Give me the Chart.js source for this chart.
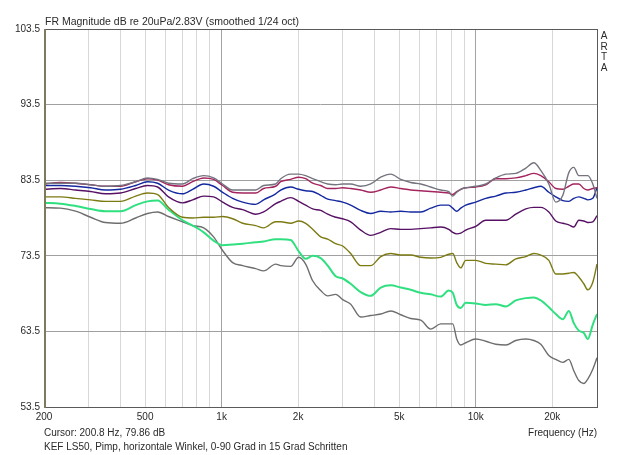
<!DOCTYPE html>
<html>
<head>
<meta charset="utf-8">
<script src="https://cdn.jsdelivr.net/npm/chart.js@4"></script>
<style>
    html, body { margin: 0; padding: 0; background: #ffffff; }
</style>
</head>
<body>
<canvas id="frChart" width="640" height="455"></canvas>
<script>
// frequencies (Hz) the curves were read at
const freqs = [200, 232, 266, 305, 349, 400, 459, 511, 560, 618, 702, 769, 850, 930, 1009, 1105, 1210, 1361, 1463, 1632,
    1708, 1869, 2010, 2141, 2282, 2454, 2615, 2811, 2995, 3220, 3526, 3860, 4227, 4628, 5067, 5548, 6074, 6650, 7282, 7829,
    8118, 8418, 8729, 9134, 10000, 10950, 11990, 13130, 14370, 15740, 16920, 18030, 19390, 20650, 22010, 23240, 24310, 25440, 26620, 27600,
    28880, 30000];

// magnitude in dB, one array per angle
const deg0 = [83.1, 83.1, 83.1, 82.9, 82.7, 82.8, 83.3, 83.8, 83.6, 83.1, 83.0, 83.7, 84.1, 83.8, 83.0, 82.2, 82.2, 82.2, 82.8, 83.0,
    83.7, 84.3, 84.3, 84.1, 83.7, 83.3, 83.0, 82.9, 83.0, 83.0, 82.7, 83.0, 83.9, 84.3, 83.6, 83.2, 83.0, 82.6, 82.2, 82.0,
    81.4, 81.9, 82.3, 82.5, 82.7, 83.0, 83.8, 84.3, 84.4, 85.1, 85.8, 84.8, 83.0, 80.6, 81.5, 84.5, 85.2, 84.1, 84.1, 84.1,
    83.0, 81.1];
const deg15 = [83.0, 83.2, 83.1, 82.9, 82.7, 82.7, 83.3, 83.7, 83.5, 82.9, 82.7, 83.3, 83.8, 83.6, 82.8, 81.9, 81.8, 81.8, 82.4, 82.7,
    83.3, 83.6, 83.9, 83.7, 83.1, 82.8, 82.4, 82.4, 82.5, 82.4, 82.2, 81.9, 82.2, 82.6, 82.4, 82.2, 82.1, 82.0, 81.9, 81.8,
    81.6, 82.0, 82.3, 82.5, 82.6, 82.9, 83.7, 83.7, 83.8, 84.1, 84.4, 84.1, 83.3, 82.4, 82.3, 82.7, 83.0, 83.0, 82.4, 82.2,
    82.4, 82.5];
const deg30 = [82.8, 82.8, 82.7, 82.5, 82.2, 82.3, 82.8, 83.3, 83.1, 82.2, 81.7, 82.3, 83.0, 82.7, 81.9, 81.1, 80.6, 80.3, 80.9, 81.7,
    82.2, 82.6, 82.3, 82.1, 82.0, 81.5, 81.0, 80.8, 80.6, 80.2, 79.5, 79.1, 79.4, 79.3, 79.4, 79.3, 79.3, 79.8, 80.2, 80.2,
    79.8, 79.4, 79.8, 80.2, 80.6, 81.1, 81.4, 81.8, 81.9, 82.2, 82.5, 82.7, 81.9, 81.3, 80.8, 80.7, 81.1, 81.3, 81.1, 80.9,
    81.1, 82.5];
const deg45 = [82.3, 82.4, 82.2, 82.0, 81.7, 81.8, 82.4, 82.8, 82.6, 81.3, 80.5, 80.9, 81.4, 81.3, 80.6, 79.9, 79.6, 79.0, 79.3, 80.4,
    80.7, 81.2, 80.7, 80.2, 79.7, 79.5, 79.0, 78.6, 78.4, 78.0, 76.9, 76.2, 76.6, 77.1, 77.0, 77.0, 77.1, 77.2, 77.3, 77.0,
    76.6, 76.4, 76.5, 76.9, 77.4, 78.2, 78.2, 78.2, 79.0, 79.7, 79.9, 79.9, 79.3, 78.1, 77.8, 77.6, 77.3, 78.2, 78.1, 77.9,
    78.0, 78.8];
const deg60 = [81.3, 81.3, 81.1, 80.9, 80.7, 80.7, 81.4, 81.8, 81.6, 79.9, 78.6, 78.5, 78.6, 78.6, 78.7, 78.4, 77.8, 77.5, 77.2, 78.0,
    78.0, 77.8, 78.1, 77.8, 77.0, 76.0, 75.7, 75.1, 74.8, 73.8, 72.2, 72.2, 73.4, 73.8, 73.6, 73.6, 73.3, 73.2, 73.3, 73.7,
    73.8, 72.6, 71.9, 72.9, 72.9, 72.5, 72.4, 72.3, 73.1, 73.4, 73.8, 73.6, 72.9, 71.1, 71.1, 71.2, 71.3, 70.7, 69.8, 69.0,
    70.0, 72.4];
const deg75 = [80.5, 80.4, 80.1, 79.7, 79.4, 79.4, 80.2, 80.7, 80.8, 79.6, 78.2, 77.5, 76.6, 75.5, 74.9, 75.0, 75.1, 75.3, 75.4, 75.7,
    75.7, 75.6, 74.1, 73.1, 73.5, 73.2, 72.2, 70.8, 70.5, 69.8, 68.7, 68.2, 69.3, 69.6, 69.3, 69.0, 68.6, 68.4, 68.1, 68.9,
    68.6, 67.0, 66.6, 67.3, 67.2, 67.0, 67.1, 66.8, 67.6, 67.9, 68.0, 67.6, 66.7, 65.8, 65.1, 66.2, 64.6, 63.6, 63.3, 62.5,
    64.4, 65.8];
const deg90 = [79.86, 79.8, 79.4, 78.6, 77.9, 77.8, 78.5, 79.1, 79.3, 78.7, 78.0, 77.5, 77.2, 76.0, 74.2, 72.6, 72.2, 71.8, 71.5, 72.4,
    72.2, 72.1, 73.3, 72.4, 70.2, 68.9, 68.2, 68.4, 67.7, 67.1, 65.4, 65.6, 65.8, 66.2, 65.7, 65.2, 65.0, 63.8, 64.5, 64.5,
    64.5, 62.5, 61.7, 62.0, 62.5, 62.2, 61.8, 61.7, 62.3, 62.5, 62.3, 61.8, 60.3, 59.8, 59.4, 59.8, 58.3, 57.0, 56.6, 57.2,
    58.5, 60.0];

const seriesLabels = ['0 Grad', '15 Grad', '30 Grad', '45 Grad', '60 Grad', '75 Grad', '90 Grad'];
const seriesValues = [deg0, deg15, deg30, deg45, deg60, deg75, deg90];
const seriesColors = ['#74747f', '#a3245f', '#1428a0', '#561064', '#7c7a12', '#30e080', '#6e6e6e'];

// axis ticks
const yTicks = [53.5, 63.5, 73.5, 83.5, 93.5, 103.5];
const xGrid = [200, 300, 400, 500, 600, 700, 800, 900, 1000, 2000, 3000, 4000, 5000, 6000, 7000, 8000, 9000, 10000, 20000, 30000];
const xLabels = { 200: '200', 500: '500', 1000: '1k', 2000: '2k', 5000: '5k', 10000: '10k', 20000: '20k' };

const FONT = "'Liberation Sans', Arial, sans-serif";
const TEXT = '#2a2a2a';

const datasets = seriesValues.map((vals, i) => ({
    label: seriesLabels[i],
    data: freqs.map((f, j) => ({ x: f, y: vals[j] })),
    borderColor: seriesColors[i],
    borderWidth: i === 5 ? 2 : 1.4,
    pointRadius: 0,
    cubicInterpolationMode: 'monotone',
    fill: false
}));

const artaDecor = {
    id: 'artaDecor',
    afterDatasetsDraw(chart) {
        const { ctx, chartArea: a } = chart;
        ctx.save();
        ctx.strokeStyle = '#5a5a5a';
        ctx.lineWidth = 1;
        ctx.strokeRect(a.left + 0.5, a.top + 0.5, a.right - a.left, a.bottom - a.top);
        ctx.strokeStyle = '#7d7b5c';
        ctx.lineWidth = 2;
        ctx.beginPath();
        ctx.moveTo(a.left + 1, a.top);
        ctx.lineTo(a.left + 1, a.bottom + 1);
        ctx.stroke();
        ctx.restore();
    },
    afterDraw(chart) {
        const { ctx, chartArea: a } = chart;
        ctx.save();
        ctx.fillStyle = TEXT;
        ctx.textBaseline = 'alphabetic';
        ctx.font = '10.5px ' + FONT;
        ctx.textAlign = 'left';
        ctx.fillText('FR Magnitude dB re 20uPa/2.83V (smoothed 1/24 oct)', a.left + 1, 25);
        ctx.font = '10px ' + FONT;
        ctx.fillText('Cursor: 200.8 Hz, 79.86 dB', a.left, 436);
        ctx.fillText('KEF LS50, Pimp, horizontale Winkel, 0-90 Grad in 15 Grad Schritten', a.left, 450);
        ctx.textAlign = 'right';
        ctx.fillText('Frequency (Hz)', a.right, 436);
        ctx.textAlign = 'center';
        ['A', 'R', 'T', 'A'].forEach((ch, i) => ctx.fillText(ch, a.right + 7, 39 + i * 10.5));
        ctx.restore();
    }
};

const ctx = document.getElementById('frChart').getContext('2d');
const frChart = new Chart(ctx, {
    type: 'line',
    data: { datasets },
    options: {
        responsive: false,
        animation: false,
        layout: { padding: { top: 29, right: 43, left: 0, bottom: 0 } },
        plugins: { legend: { display: false }, tooltip: { enabled: false } },
        scales: {
            x: {
                type: 'logarithmic',
                min: 200,
                max: 30000,
                afterBuildTicks: (axis) => { axis.ticks = xGrid.map(v => ({ value: v })); },
                afterFit: (axis) => { axis.height = 48; },
                ticks: {
                    autoSkip: false,
                    maxRotation: 0,
                    padding: 4,
                    color: TEXT,
                    font: { family: FONT, size: 10 },
                    callback: (v) => xLabels[v] || ''
                },
                grid: {
                    drawTicks: false,
                    color: (c) => (c.tick && (c.tick.value === 1000 || c.tick.value === 10000)) ? '#a4a4a4' : '#d8d8d8'
                },
                border: { display: false }
            },
            y: {
                min: 53.5,
                max: 103.5,
                afterBuildTicks: (axis) => { axis.ticks = yTicks.map(v => ({ value: v })); },
                afterFit: (axis) => { axis.width = 44; },
                ticks: {
                    padding: 4,
                    color: TEXT,
                    font: { family: FONT, size: 10 },
                    callback: (v) => Number(v).toFixed(1)
                },
                grid: { drawTicks: false, color: '#a0a0a0' },
                border: { display: false }
            }
        }
    },
    plugins: [artaDecor]
});
</script>
</body>
</html>
